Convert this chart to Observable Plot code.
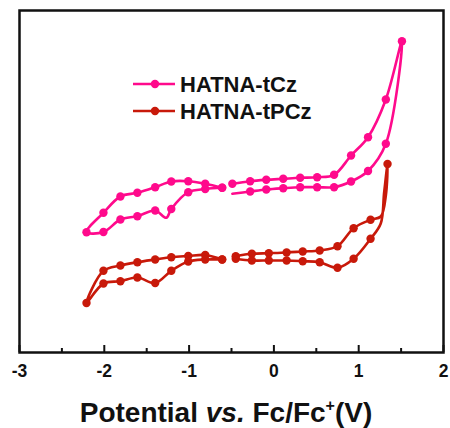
<!DOCTYPE html>
<html>
<head>
<meta charset="utf-8">
<script src="https://cdn.jsdelivr.net/npm/d3@7"></script>
<script src="https://cdn.jsdelivr.net/npm/@observablehq/plot@0.6"></script>
<style>
  html, body { margin: 0; padding: 0; background: #fff; }
  #chart { width: 450px; height: 428px; }
</style>
</head>
<body>
<div id="chart"></div>
<script>
// ---- data (potential in V vs Fc/Fc+, current in arbitrary units) ----
const seriesNames = ["HATNA-tCz", "HATNA-tPCz"];
const seriesColors = ["#ff0a8c", "#c8190a"];
const majorTicks = [-3, -2, -1, 0, 1, 2];
const minorTicks = [-2.5, -1.5, -0.5, 0.5, 1.5];

// [potential, current, has symbol]
const tczReduction = [
  [-0.61, 164.7, 1], [-0.81, 168.7, 1], [-1.01, 171.3, 1], [-1.21, 171.0, 1],
  [-1.40, 165.3, 1], [-1.61, 159.7, 1], [-1.81, 156.0, 1], [-2.01, 139.7, 1],
  [-2.21, 120.3, 1], [-2.01, 120.5, 1], [-1.81, 133.0, 1], [-1.61, 136.3, 1],
  [-1.40, 142.0, 1], [-1.27, 134.7, 0], [-1.21, 143.5, 1], [-1.01, 160.3, 1],
  [-0.81, 163.5, 1], [-0.61, 164.7, 1]
];
const tczOxidation = [
  [-0.49, 158.7, 0], [-0.28, 161.0, 1], [-0.09, 163.0, 1], [0.11, 164.3, 1],
  [0.31, 165.3, 1], [0.51, 165.3, 1], [0.71, 165.3, 1], [0.91, 171.0, 1],
  [1.11, 181.5, 1], [1.32, 208.7, 1], [1.51, 311.3, 1], [1.32, 253.0, 1],
  [1.11, 215.3, 1], [0.91, 197.0, 1], [0.71, 177.7, 1], [0.51, 175.3, 1],
  [0.31, 174.7, 1], [0.11, 173.7, 1], [-0.09, 172.7, 1], [-0.28, 171.3, 1],
  [-0.49, 168.7, 1]
];
const tpczReduction = [
  [-0.61, 93.0, 1], [-0.81, 97.5, 1], [-1.01, 96.5, 1], [-1.21, 95.3, 1],
  [-1.40, 93.0, 1], [-1.61, 90.3, 1], [-1.81, 87.0, 1], [-2.01, 81.7, 1],
  [-2.21, 49.5, 1], [-2.01, 69.0, 1], [-1.81, 71.3, 1], [-1.61, 75.0, 1],
  [-1.40, 69.5, 1], [-1.21, 81.7, 1], [-1.01, 91.0, 1], [-0.81, 93.0, 1],
  [-0.61, 93.0, 1]
];
const tpczOxidation = [
  [-0.45, 93.7, 1], [-0.26, 92.0, 1], [-0.06, 92.0, 1], [0.15, 92.0, 1],
  [0.34, 91.3, 1], [0.54, 90.3, 1], [0.75, 84.7, 1], [0.94, 93.7, 1],
  [1.14, 113.7, 1], [1.26, 129.0, 0], [1.30, 160.0, 0], [1.34, 188.5, 1],
  [1.32, 157.0, 0], [1.26, 136.0, 0], [1.14, 132.7, 1], [0.94, 124.3, 1],
  [0.75, 106.3, 1], [0.54, 102.0, 1], [0.34, 101.0, 1], [0.15, 100.0, 1],
  [-0.06, 99.3, 1], [-0.26, 98.7, 1], [-0.45, 96.3, 1]
];

const xDomain = [-3, 2];
const yDomain = [0, 342];

// ---- build table ----
function rows(arr, series, scan) {
  return arr.map(([x, y, s]) => ({x, y, s, series, scan}));
}
const data = [
  ...rows(tczReduction, seriesNames[0], "tCz-red"),
  ...rows(tczOxidation, seriesNames[0], "tCz-ox"),
  ...rows(tpczReduction, seriesNames[1], "tPCz-red"),
  ...rows(tpczOxidation, seriesNames[1], "tPCz-ox")
];

const W = 450, H = 428;
const mL = 19, mR = 7, mT = 10, mB = 76;
const innerH = H - mT - mB;
const font = "'Liberation Sans', Arial, sans-serif";

const plot = Plot.plot({
  width: W,
  height: H,
  marginLeft: mL,
  marginRight: mR,
  marginTop: mT,
  marginBottom: mB,
  style: {fontFamily: font, background: "#fff", overflow: "visible"},
  x: {domain: xDomain, axis: null},
  y: {domain: yDomain, axis: null},
  color: {domain: seriesNames, range: seriesColors},
  marks: [
    Plot.line(data, {x: "x", y: "y", z: "scan", stroke: "series", strokeWidth: 2.6, curve: "catmull-rom"}),
    Plot.dot(data.filter(d => d.s), {x: "x", y: "y", fill: "series", r: 4.2, stroke: "none"}),
    Plot.ruleX(majorTicks, {x: d => d, stroke: "#111", strokeWidth: 2, insetTop: innerH - 7}),
    Plot.ruleX(minorTicks, {x: d => d, stroke: "#111", strokeWidth: 2, insetTop: innerH - 4}),
    Plot.text(majorTicks, {
      x: d => d, text: d => String(d), frameAnchor: "bottom", dy: 19,
      lineAnchor: "middle", fontSize: 17, fontWeight: "bold", fill: "#111"
    }),
    Plot.frame({stroke: "#111", strokeWidth: 2.5})
  ]
});

document.getElementById("chart").appendChild(plot);

const svg = d3.select(plot);
svg.selectAll('g[aria-label="text"] text')
  .style("font-size", "17.5px").style("font-weight", "bold")
  .style("font-family", font);

// ---- legend and axis title ----
const leg = svg.append("g").attr("font-family", font).attr("font-weight", "bold")
  .attr("text-anchor", "start");
seriesNames.forEach((name, i) => {
  const y = 84 + i * 27;
  leg.append("line").attr("x1", 133).attr("x2", 175).attr("y1", y).attr("y2", y)
    .attr("stroke", seriesColors[i]).attr("stroke-width", 2.6);
  leg.append("circle").attr("cx", 155).attr("cy", y).attr("r", 4.2).attr("fill", seriesColors[i]);
  leg.append("text").attr("x", 180).attr("y", y + 8).attr("font-size", 22)
    .attr("text-anchor", "start").attr("fill", "#111").text(name);
});

const title = svg.append("text")
  .attr("x", 226).attr("y", 421.5)
  .attr("text-anchor", "middle")
  .attr("font-family", font).attr("font-weight", "bold").attr("font-size", 28)
  .attr("fill", "#111");
title.append("tspan").text("Potential ");
title.append("tspan").attr("font-style", "italic").text("vs.");
title.append("tspan").text(" Fc/Fc");
title.append("tspan").attr("font-size", 16).attr("dy", -11).text("+");
title.append("tspan").attr("dy", 11).text("(V)");
</script>
</body>
</html>
